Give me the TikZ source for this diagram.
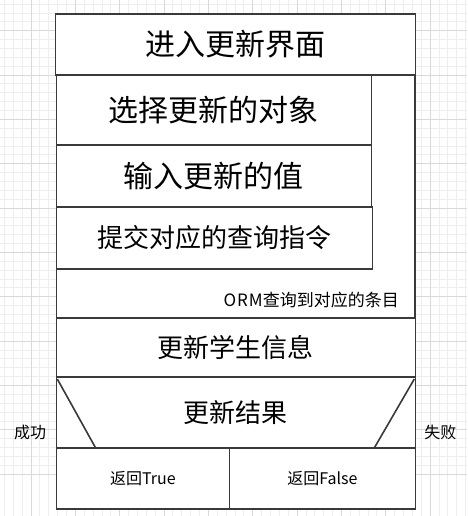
\documentclass[tikz,border=0pt]{standalone}
\usepackage{fontspec}
\setmainfont{Noto Sans CJK SC}
\usetikzlibrary{calc}
\definecolor{edge}{HTML}{3A3A3A}
\definecolor{gridminor}{HTML}{EEEEEE}
\definecolor{gridmajor}{HTML}{D9D9D9}

\begin{document}
\begin{tikzpicture}[x=1pt,y=-1pt,
  box/.style={draw=edge, line width=1.6pt, fill=white, inner sep=0pt,
    anchor=north west, align=center},
  slant/.style={draw=edge, line width=1.6pt},
  big/.style={font=\fontsize{30}{32}\selectfont},
  mid/.style={font=\fontsize{26}{28}\selectfont},
  note/.style={font=\fontsize{17}{19}\selectfont},
  small/.style={font=\fontsize{16}{18}\selectfont}
]
\useasboundingbox (0,0) rectangle (467,516);
\fill[white] (0,0) rectangle (467,516);

% background grid: minor lines, then every fifth line darker
\foreach \i in {-4,...,50} {
  \draw[gridminor, line width=0.9pt] ({31+\i*8.87},0) -- ++(0,516);
  \draw[gridminor, line width=0.9pt] (0,{30.7+\i*8.87}) -- ++(467,0);
}
\foreach \i in {-1,...,10} {
  \draw[gridmajor, line width=0.9pt] ({31+\i*44.35},0) -- ++(0,516);
  \draw[gridmajor, line width=0.9pt] (0,{30.7+\i*44.35}) -- ++(467,0);
}

% header
\node[box, big, minimum width=360, minimum height=60.5] (enter) at (54.5,13.5) {进入更新界面};

% query container with its caption
\node[box, minimum width=358.5, minimum height=243] (orm) at (55.5,74) {};
\node[note, anchor=east, inner sep=0pt] (ormlabel) at (399,300) {O\hspace{1pt}R\hspace{1pt}M查询到对应的条目};

% steps inside the container
\node[box, big, minimum width=315, minimum height=70] (choose) at (55.5,74) {选择更新的对象};
\node[box, big, minimum width=315, minimum height=62] (input) at (55.5,144) {输入更新的值};
\node[box, mid, minimum width=316, minimum height=62] (submit) at (55.5,206) {提交对应的查询指令};

% update step
\node[box, mid, minimum width=359, minimum height=59] (update) at (55.5,317) {更新学生信息};

% result branch
\node[box, mid, minimum width=359, minimum height=71] (result) at (55.5,376) {更新结果};
\draw[slant] ($(result.north west)+(1.8,3)$) -- ($(result.south west)+(40.5,0)$);
\draw[slant] ($(result.north east)+(-1.8,3)$) -- ($(result.south east)+(-42.2,0)$);

\node[box, small, minimum width=173.2, minimum height=61] (true) at (55.5,447) {返回True};
\node[box, small, minimum width=185.8, minimum height=61] (false) at (228.7,447) {返回False};

\node[small, inner sep=0pt] (ok) at (30,432.7) {成功};
\node[small, inner sep=0pt] (fail) at (440.3,432.7) {失败};
\end{tikzpicture}
\end{document}
